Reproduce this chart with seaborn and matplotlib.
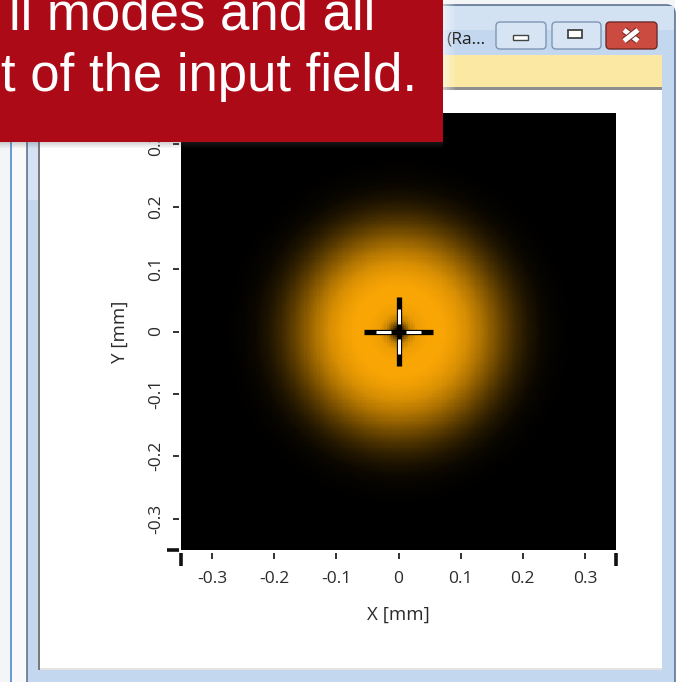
import numpy as np
import pandas as pd
import matplotlib
matplotlib.use("Agg")
import matplotlib.pyplot as plt
import seaborn as sns
from matplotlib.colors import LinearSegmentedColormap
from matplotlib.patches import Rectangle, FancyBboxPatch
import matplotlib.patheffects as pe


# radial intensity profile of the beam (radius in mm)
radius_mm = [0.0, 0.005, 0.012, 0.02, 0.03, 0.05, 0.07, 0.09, 0.11, 0.13,
             0.15, 0.17, 0.19, 0.21, 0.23, 0.25, 0.28, 0.50]
intensity = [0.02, 0.15, 0.50, 0.80, 0.95, 1.0, 1.0, 0.95, 0.86, 0.72,
             0.55, 0.38, 0.23, 0.12, 0.05, 0.02, 0.0, 0.0]

x_range = [-0.35, 0.35]
y_range = [-0.35, 0.35]
n_cells = 201

x_ticks = [-0.3, -0.2, -0.1, 0, 0.1, 0.2, 0.3]
x_ticklabels = ["-0.3", "-0.2", "-0.1", "0", "0.1", "0.2", "0.3"]
y_ticks = [-0.3, -0.2, -0.1, 0, 0.1, 0.2, 0.3]
y_ticklabels = ["-0.3", "-0.2", "-0.1", "0", "0.1", "0.2", "0.3"]

beam_center = (0.0, 0.0)
cross_arm = 0.055
cross_white = (0.012, 0.036)

callout_lines = ["ll modes and all", "t of the input field."]
window_title = "(Ra..."

W, H = 684, 682


def box(a, x0, y0, x1, y1, color, **kw):
    a.add_patch(Rectangle((x0, y0), x1 - x0, y1 - y0, facecolor=color,
                          edgecolor=kw.pop("edgecolor", "none"), **kw))


sns.set_theme(style="white")
plt.rcParams["font.family"] = ["Open Sans", "DejaVu Sans"]

fig = plt.figure(figsize=(W / 100, H / 100), dpi=100)
fig.patch.set_facecolor("#f4f5f7")

# ---- window chrome behind the chart (pixel coordinates, y down)
bg = fig.add_axes([0, 0, 1, 1], zorder=-1)
bg.set_xlim(0, W)
bg.set_ylim(H, 0)
bg.axis("off")

box(bg, 0, 0, W, H, "#f4f5f7")
box(bg, 675, 0, W, H, "#ffffff")
box(bg, 10, 0, 11.5, H, "#6b9bd6")
box(bg, 11.5, 0, 27, H, "#f9f9f9")
bg.add_patch(FancyBboxPatch((27, 5), 648, 700, boxstyle="round,pad=0,rounding_size=9",
                            facecolor="#c3d7ee", edgecolor="#5f7592", lw=1.2))
box(bg, 28, 6, 674, 30, "#d3e2f3")
box(bg, 28, 55, 38, 200, "#d4e2f3")
box(bg, 40, 55, 662, 87, "#fbe9a3")
box(bg, 40, 87, 662, 89.5, "#8e8e8e")
box(bg, 38, 89.5, 662, 670, "#7a7a7a")
box(bg, 40, 89.5, 662, 668, "#ffffff")
box(bg, 40, 668, 662, 670, "#e3e3e3")

bg.text(446, 39, window_title, fontsize=12.5, color="#1e1e1e", va="center", ha="left")

# caption buttons
for x0, x1, face, edge in [(496, 546, "#d6e4f4", "#7d95b5"),
                           (552, 601, "#d6e4f4", "#7d95b5"),
                           (606, 657, "#cc4b40", "#6d2a2a")]:
    bg.add_patch(FancyBboxPatch((x0, 22), x1 - x0, 27, boxstyle="round,pad=0,rounding_size=4",
                                facecolor=face, edgecolor=edge, lw=1))
box(bg, 513, 35, 528, 40, "#ffffff", edgecolor="#444444", lw=1)
box(bg, 568, 30, 582, 38, "#ffffff", edgecolor="#444444", lw=1.3)
for seg in [([624, 638], [30, 41]), ([624, 638], [41, 30])]:
    bg.plot(seg[0], seg[1], color="white", lw=3.5, solid_capstyle="butt",
            path_effects=[pe.Stroke(linewidth=5, foreground="#7a2a24"), pe.Normal()])

# ---- beam profile
edges_x = np.linspace(x_range[0], x_range[1], n_cells + 1)
edges_y = np.linspace(y_range[0], y_range[1], n_cells + 1)
cx_mid = (edges_x[:-1] + edges_x[1:]) / 2
cy_mid = ((edges_y[:-1] + edges_y[1:]) / 2)[::-1]
XX, YY = np.meshgrid(cx_mid, cy_mid)
rr = np.hypot(XX - beam_center[0], YY - beam_center[1])
field = pd.DataFrame(np.interp(rr, radius_mm, intensity), index=cy_mid, columns=cx_mid)

cmap = LinearSegmentedColormap.from_list("beam", ["#000000", "#7d5200", "#f9a504"])

rect = [181 / W, (H - 550) / H, 435 / W, 437 / H]
ax_img = fig.add_axes(rect, zorder=0)
sns.heatmap(field, ax=ax_img, cmap=cmap, vmin=0, vmax=1, cbar=False,
            xticklabels=False, yticklabels=False, rasterized=True)
ax_img.set_axis_off()

ax = fig.add_axes(rect, zorder=1, facecolor="none")
ax.set_xlim(x_range)
ax.set_ylim(y_range)

# crosshair on the beam centre
bx, by = beam_center
ax.plot([bx - cross_arm, bx + cross_arm], [by, by], color="black", lw=3.8, solid_capstyle="butt")
ax.plot([bx, bx], [by - cross_arm, by + cross_arm], color="black", lw=3.8, solid_capstyle="butt")
for s in (-1, 1):
    a0, a1 = s * cross_white[0], s * cross_white[1]
    ax.plot([bx + a0, bx + a1], [by, by], color="white", lw=2.2, solid_capstyle="butt")
    ax.plot([bx, bx], [by + a0, by + a1], color="white", lw=2.2, solid_capstyle="butt")

for side in ["top", "right"]:
    ax.spines[side].set_visible(False)
ax.spines["bottom"].set_position(("outward", 2.5))
ax.spines["left"].set_position(("outward", 1.5))
ax.spines["bottom"].set_color("none")
ax.spines["left"].set_color("none")

ax.set_xticks(x_ticks)
ax.set_xticklabels(x_ticklabels)
ax.set_yticks(y_ticks)
ax.set_yticklabels(y_ticklabels, rotation=90, va="center")
ax.set_xticks([x_range[0], x_range[1]], minor=True)
ax.set_yticks([y_range[0], y_range[1]], minor=True)
ax.tick_params(which="major", direction="out", length=4.5, width=1.3, color="#222222",
               labelsize=12.5, labelcolor="#2b2b2b", bottom=True, left=True)
ax.tick_params(axis="x", which="major", pad=8)
ax.tick_params(axis="y", which="major", pad=6)
ax.tick_params(which="minor", direction="out", length=9, width=2.6, color="#111111",
               bottom=True, left=True)
ax.set_xlabel("X [mm]", fontsize=13.5, color="#2b2b2b", labelpad=14)
ax.set_ylabel("Y [mm]", fontsize=13.5, color="#2b2b2b", labelpad=14)

# ---- red callout on top of everything
fg = fig.add_axes([0, 0, 1, 1], zorder=5, facecolor="none")
fg.set_xlim(0, W)
fg.set_ylim(H, 0)
fg.axis("off")
for i in range(6):
    box(fg, 443 + i * 2, 0, 445 + i * 2, 112, "#ffffff", alpha=0.5 - i * 0.08)
    box(fg, 0, 142 + i, 443, 143 + i, "#555555", alpha=0.25 - i * 0.04)
box(fg, 0, 0, 443, 142, "#ad0a17")
fg.text(9, 30, callout_lines[0], color="white", fontsize=38, family="Liberation Sans",
        va="baseline", ha="left")
fg.text(1, 91, callout_lines[1], color="white", fontsize=38, family="Liberation Sans",
        va="baseline", ha="left")

fig.savefig("out.png", dpi=100)
